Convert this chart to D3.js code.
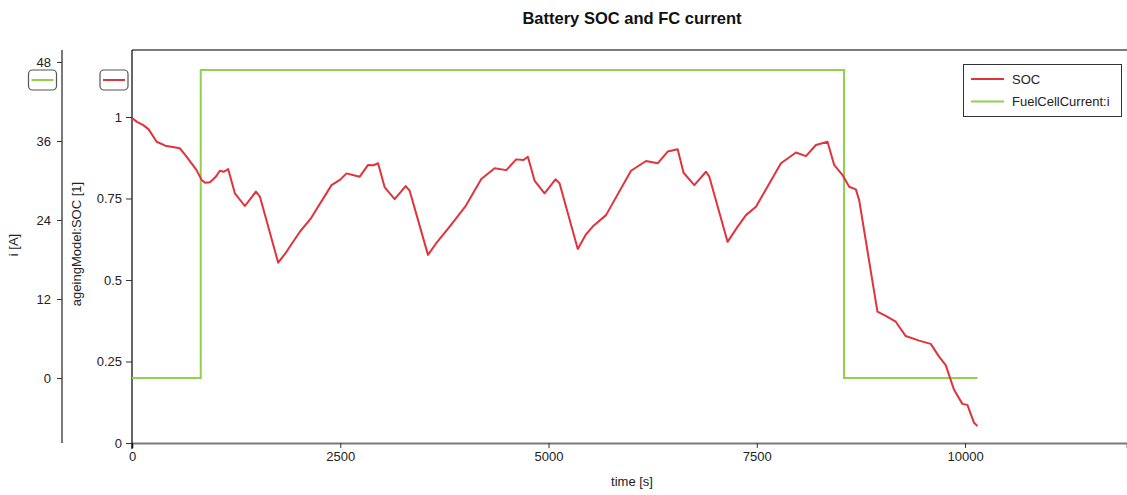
<!DOCTYPE html>
<html>
<head>
<meta charset="utf-8">
<script src="https://cdn.jsdelivr.net/npm/d3@7/dist/d3.min.js"></script>
<style>
  body { margin: 0; background: #fff; }
  svg { display: block; font-family: "Liberation Sans", Arial, sans-serif; }
</style>
</head>
<body>
<svg id="chart" width="1127" height="495"></svg>
<script>
// ---- data ----
const socTime = [0, 60, 136, 200, 296, 400, 575, 650, 775, 835, 880, 935, 1000, 1055, 1100, 1155,
  1235, 1355, 1487, 1535, 1755, 1850, 2015, 2150, 2395, 2500, 2575, 2650, 2734, 2834, 2900, 2954,
  3034, 3153, 3285, 3333, 3553, 3650, 3813, 4000, 4193, 4353, 4493, 4612, 4700, 4752, 4832, 4952,
  5084, 5132, 5351, 5450, 5530, 5690, 5990, 6170, 6310, 6430, 6550, 6621, 6750, 6890, 6930, 7149,
  7260, 7370, 7490, 7790, 7970, 8090, 8210, 8349, 8429, 8529, 8609, 8689, 8729, 8948, 9048, 9168,
  9288, 9448, 9588, 9688, 9768, 9868, 9968, 10028, 10108, 10148];
const socValue = [0.997, 0.985, 0.975, 0.962, 0.924, 0.912, 0.904, 0.880, 0.837, 0.807, 0.798, 0.800,
  0.815, 0.835, 0.832, 0.840, 0.766, 0.727, 0.771, 0.756, 0.553, 0.585, 0.648, 0.690, 0.791, 0.808,
  0.827, 0.822, 0.817, 0.853, 0.852, 0.858, 0.784, 0.748, 0.788, 0.774, 0.577, 0.612, 0.664, 0.725,
  0.810, 0.843, 0.837, 0.870, 0.868, 0.878, 0.805, 0.766, 0.809, 0.797, 0.595, 0.640, 0.664, 0.699,
  0.835, 0.865, 0.858, 0.894, 0.901, 0.829, 0.791, 0.832, 0.817, 0.617, 0.660, 0.699, 0.725, 0.858,
  0.891, 0.880, 0.914, 0.924, 0.853, 0.822, 0.786, 0.778, 0.745, 0.403, 0.390, 0.372, 0.328, 0.314,
  0.304, 0.265, 0.239, 0.163, 0.120, 0.117, 0.062, 0.052];
const fcTime = [0, 825, 8547, 10150];
const fcValue = [0, 46.8, 0, 0];
const timeTicks = [0, 2500, 5000, 7500, 10000];
const socTicks = [0, 0.25, 0.5, 0.75, 1];
const iTicks = [0, 12, 24, 36, 48];
const seriesNames = ["SOC", "FuelCellCurrent:i"];
const seriesColors = ["#e0333c", "#92d050"];

// ---- layout ----
const svg = d3.select("#chart");
const plotTop = 50, plotBottom = 443, plotLeft = 132, plotRight = 1127;
const tickFont = 13;

const x = d3.scaleLinear().domain([0, 11944]).range([plotLeft, plotRight]);
const ySoc = d3.scaleLinear().domain([0, 1.2055]).range([plotBottom, plotTop]);
const yI = d3.scaleLinear().domain([-9.87, 49.82]).range([plotBottom, plotTop]);

// title
svg.append("text").attr("x", 632).attr("y", 24).attr("text-anchor", "middle")
  .attr("font-size", 16.5).attr("font-weight", "bold").attr("fill", "#111")
  .text("Battery SOC and FC current");

// top border
svg.append("line").attr("x1", plotLeft).attr("x2", plotRight).attr("y1", plotTop).attr("y2", plotTop)
  .attr("stroke", "#7a7a7a").attr("stroke-width", 2);

// x axis
const gx = svg.append("g").attr("transform", `translate(0,${plotBottom})`)
  .call(d3.axisBottom(x).tickValues(timeTicks).tickFormat(d3.format("d")).tickSizeOuter(0).tickSize(5).tickPadding(4));
gx.select(".domain").attr("stroke", "#7a7a7a").attr("stroke-width", 2);
gx.selectAll(".tick line").attr("stroke", "#333");
gx.selectAll(".tick text").attr("font-size", tickFont).attr("fill", "#222").attr("font-family", "Liberation Sans, Arial, sans-serif");

// SOC axis
const gs = svg.append("g").attr("transform", `translate(${plotLeft},0)`)
  .call(d3.axisLeft(ySoc).tickValues(socTicks).tickFormat(d => d3.format("")(d)).tickSizeOuter(0).tickSize(6).tickPadding(4));
gs.select(".domain").attr("stroke", "#000").attr("stroke-width", 1.2)
  .attr("d", `M0,${plotTop}V${plotBottom + 6}`);
gs.selectAll(".tick line").attr("stroke", "#333");
gs.selectAll(".tick text").attr("font-size", tickFont).attr("fill", "#222").attr("font-family", "Liberation Sans, Arial, sans-serif");

// i axis
const iAxisX = 62;
const gi = svg.append("g").attr("transform", `translate(${iAxisX},0)`)
  .call(d3.axisLeft(yI).tickValues(iTicks).tickSizeOuter(0).tickSize(5).tickPadding(6));
gi.select(".domain").attr("stroke", "#7a7a7a").attr("stroke-width", 2)
  .attr("d", `M0,${plotTop}V${plotBottom}`);
gi.selectAll(".tick line").attr("stroke", "#333");
gi.selectAll(".tick text").attr("font-size", tickFont).attr("fill", "#222").attr("font-family", "Liberation Sans, Arial, sans-serif");

// axis titles
svg.append("text").attr("transform", "translate(18,245) rotate(-90)").attr("text-anchor", "middle")
  .attr("font-size", 13).attr("fill", "#222").text("i [A]");
svg.append("text").attr("transform", "translate(81,244) rotate(-90)").attr("text-anchor", "middle")
  .attr("font-size", 13).attr("fill", "#222").text("ageingModel:SOC [1]");
svg.append("text").attr("x", 632).attr("y", 486).attr("text-anchor", "middle")
  .attr("font-size", 13).attr("fill", "#222").text("time [s]");

// axis swatches
function swatch(cx, color) {
  svg.append("rect").attr("x", cx - 14).attr("y", 70).attr("width", 28).attr("height", 20)
    .attr("rx", 4).attr("fill", "#fff").attr("stroke", "#555").attr("stroke-width", 1.2);
  svg.append("line").attr("x1", cx - 11).attr("x2", cx + 11).attr("y1", 80).attr("y2", 80)
    .attr("stroke", color).attr("stroke-width", 2);
}
swatch(42.5, seriesColors[1]);
swatch(114, seriesColors[0]);

// clip
svg.append("clipPath").attr("id", "clip").append("rect")
  .attr("x", plotLeft).attr("y", plotTop).attr("width", plotRight - plotLeft).attr("height", plotBottom - plotTop);

// FC current line
const fcData = fcTime.map((t, i) => [t, fcValue[i]]);
svg.append("path").datum(fcData).attr("clip-path", "url(#clip)")
  .attr("fill", "none").attr("stroke", seriesColors[1]).attr("stroke-width", 2)
  .attr("d", d3.line().x(d => x(d[0])).y(d => yI(d[1])).curve(d3.curveStepAfter));

// SOC line
const socData = socTime.map((t, i) => [t, socValue[i]]);
svg.append("path").datum(socData).attr("clip-path", "url(#clip)")
  .attr("fill", "none").attr("stroke", seriesColors[0]).attr("stroke-width", 2).attr("stroke-linejoin", "round")
  .attr("d", d3.line().x(d => x(d[0])).y(d => ySoc(d[1])));

// legend
const lg = svg.append("g");
lg.append("rect").attr("x", 963.5).attr("y", 64.5).attr("width", 158).attr("height", 52)
  .attr("fill", "#fff").attr("stroke", "#333").attr("stroke-width", 1);
seriesNames.forEach((name, i) => {
  const yy = 79 + i * 22.5;
  lg.append("line").attr("x1", 971).attr("x2", 1004).attr("y1", yy).attr("y2", yy)
    .attr("stroke", seriesColors[i]).attr("stroke-width", 2);
  lg.append("text").attr("x", 1012).attr("y", yy + 4.5).attr("font-size", 13).attr("fill", "#222").text(name);
});
</script>
</body>
</html>
